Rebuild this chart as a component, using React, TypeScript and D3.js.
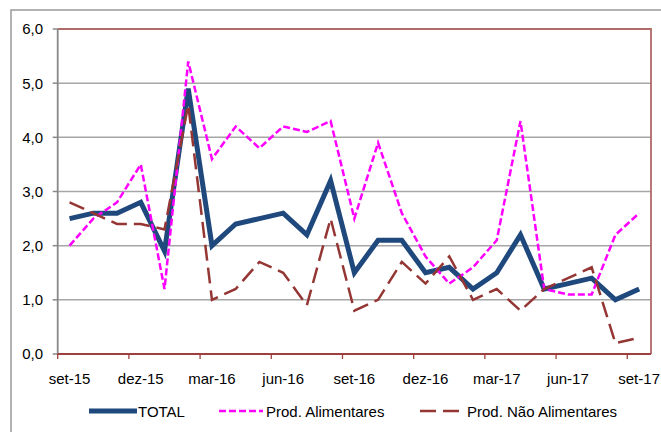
import React from 'react';
import * as d3 from 'd3';

const months = [
    'set-15', 'out-15', 'nov-15', 'dez-15', 'jan-16', 'fev-16', 'mar-16',
    'abr-16', 'mai-16', 'jun-16', 'jul-16', 'ago-16', 'set-16', 'out-16',
    'nov-16', 'dez-16', 'jan-17', 'fev-17', 'mar-17', 'abr-17', 'mai-17',
    'jun-17', 'jul-17', 'ago-17', 'set-17',
];

const total = [
    2.5, 2.6, 2.6, 2.8, 1.9, 4.9, 2.0, 2.4, 2.5, 2.6, 2.2, 3.2, 1.5,
    2.1, 2.1, 1.5, 1.6, 1.2, 1.5, 2.2, 1.2, 1.3, 1.4, 1.0, 1.2,
];

const alimentares = [
    2.0, 2.5, 2.8, 3.5, 1.2, 5.4, 3.6, 4.2, 3.8, 4.2, 4.1, 4.3, 2.5,
    3.9, 2.6, 1.8, 1.3, 1.6, 2.1, 4.3, 1.2, 1.1, 1.1, 2.2, 2.6,
];

const naoAlimentares = [
    2.8, 2.6, 2.4, 2.4, 2.3, 4.6, 1.0, 1.2, 1.7, 1.5, 0.9, 2.5, 0.8,
    1.0, 1.7, 1.3, 1.8, 1.0, 1.2, 0.8, 1.2, 1.4, 1.6, 0.2, 0.3,
];

const yTicks = [0, 1, 2, 3, 4, 5, 6];

const series = [
    { name: 'TOTAL', values: total, color: '#1F497D', width: 5, dash: null },
    { name: 'Prod. Alimentares', values: alimentares, color: '#FF00FF', width: 2.5, dash: '7,3' },
    { name: 'Prod. Não Alimentares', values: naoAlimentares, color: '#943634', width: 2.5, dash: '16,7' },
];

const WIDTH = 661;
const HEIGHT = 432;
const plot = { left: 57.7, right: 651, top: 29, bottom: 354 };
const font = '"Liberation Sans", Arial, sans-serif';

export default function App() {
    const x = d3.scalePoint(months, [plot.left, plot.right]).padding(0.5);
    const step = x.step();
    const y = d3.scaleLinear([0, 6], [plot.bottom, plot.top]);
    const fmt = (v) => d3.format('.1f')(v).replace('.', ',');

    const line = d3.line((d, i) => x(months[i]), (d) => y(d));

    const labelIdx = months.map((m, i) => i).filter((i) => i % 3 === 0);

    const legendItems = [
        { s: series[0], x0: 89, x1: 137, tx: 138 },
        { s: series[1], x0: 219, x1: 263, tx: 266 },
        { s: series[2], x0: 420, x1: 464, tx: 467 },
    ];

    return (
        <svg
            width={WIDTH}
            height={HEIGHT}
            style={{ position: 'absolute', left: 0, top: 0, background: '#fff' }}
            fontFamily={font}
        >
            {/* outer chart frame */}
            <path d={`M11,${HEIGHT + 2}V10H${WIDTH + 2}`} fill="none" stroke="#999" strokeWidth="1.5" />

            {/* gridlines */}
            <g stroke="#A6A6A6" strokeWidth="1.5">
                {yTicks.slice(1).map((t) => (
                    <line key={t} x1={plot.left} x2={plot.right} y1={y(t)} y2={y(t)} />
                ))}
            </g>

            {/* plot area border */}
            <path
                d={`M${plot.left},${plot.top}H${plot.right}V${plot.bottom}`}
                fill="none"
                stroke="#B06A68"
                strokeWidth="1.8"
            />

            {/* y axis */}
            <line x1={plot.left} x2={plot.left} y1={plot.top} y2={plot.bottom} stroke="#888" strokeWidth="1.8" />
            <g stroke="#888" strokeWidth="1.5">
                {yTicks.map((t) => (
                    <line key={t} x1={plot.left - 5} x2={plot.left} y1={y(t)} y2={y(t)} />
                ))}
            </g>
            <g fontSize="15" fill="#000" textAnchor="end">
                {yTicks.map((t) => (
                    <text key={t} x={43} y={y(t)} dy="0.36em">{fmt(t)}</text>
                ))}
            </g>

            {/* x axis */}
            <line x1={plot.left} x2={plot.right} y1={plot.bottom} y2={plot.bottom} stroke="#A0403E" strokeWidth="2" />
            <g stroke="#A0403E" strokeWidth="1.3">
                {labelIdx.map((i) => {
                    const tx = x(months[i]) - step / 2;
                    return <line key={i} x1={tx} x2={tx} y1={plot.bottom} y2={plot.bottom + 5} />;
                })}
            </g>
            <g fontSize="15" fill="#000" textAnchor="middle">
                {labelIdx.map((i) => (
                    <text key={i} x={x(months[i])} y={384}>{months[i]}</text>
                ))}
            </g>

            {/* series */}
            {series.map((s) => (
                <path
                    key={s.name}
                    d={line(s.values)}
                    fill="none"
                    stroke={s.color}
                    strokeWidth={s.width}
                    strokeDasharray={s.dash || undefined}
                    strokeLinejoin="miter"
                />
            ))}

            {/* legend */}
            <g fontSize="15" fill="#000">
                {legendItems.map(({ s, x0, x1, tx }) => (
                    <g key={s.name}>
                        <line
                            x1={x0}
                            x2={x1}
                            y1={411}
                            y2={411}
                            stroke={s.color}
                            strokeWidth={s.width}
                            strokeDasharray={s.dash || undefined}
                        />
                        <text x={tx} y={417}>{s.name}</text>
                    </g>
                ))}
            </g>
        </svg>
    );
}
